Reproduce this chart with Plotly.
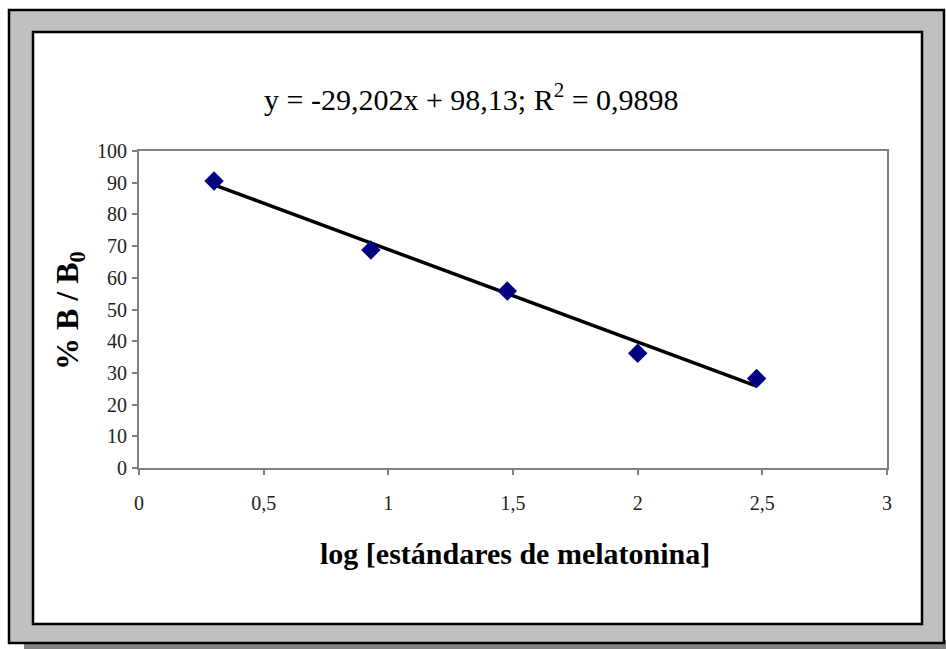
import plotly.graph_objects as go

# Data
log_conc = [0.301, 0.93, 1.477, 2.0, 2.477]
pct_b_b0 = [90.5, 68.8, 55.8, 36.2, 28.2]
slope = -29.202
intercept = 98.13
x_ticks = [0, 0.5, 1, 1.5, 2, 2.5, 3]
x_tick_labels = ["0", "0,5", "1", "1,5", "2", "2,5", "3"]
y_ticks = list(range(0, 101, 10))
equation = "y = -29,202x + 98,13; R<sup>2</sup> = 0,9898"
x_title = "log [estándares de melatonina]"
y_title = "% B / B<sub>0</sub>"

W, H = 946, 649
L, R, T, B = 139, 887, 151, 468

def px(x):
    return (x - L) / (R - L)

def py(y):
    return (B - y) / (B - T)

fit_x = [min(log_conc), max(log_conc)]
fit_y = [slope * v + intercept for v in fit_x]

fig = go.Figure()
fig.add_trace(go.Scatter(x=fit_x, y=fit_y, mode="lines",
                         line=dict(color="black", width=3.5), hoverinfo="skip"))
fig.add_trace(go.Scatter(x=log_conc, y=pct_b_b0, mode="markers",
                         marker=dict(symbol="diamond", size=15, color="#000080",
                                     line=dict(width=0))))

shapes = [
    # shadow
    dict(type="rect", xref="paper", yref="paper", x0=px(24), x1=px(960), y0=py(660), y1=py(640),
         fillcolor="#808080", line=dict(width=0), layer="below"),
    # outer gray frame
    dict(type="rect", xref="paper", yref="paper", x0=px(9), x1=px(944), y0=py(643), y1=py(10),
         fillcolor="#c0c0c0", line=dict(color="black", width=2.5), layer="below"),
    # inner white box
    dict(type="rect", xref="paper", yref="paper", x0=px(33), x1=px(922), y0=py(624), y1=py(32),
         fillcolor="white", line=dict(color="black", width=2.5), layer="below"),
]

serif = "Liberation Serif, Times New Roman, serif"
annotations = [
    dict(text=equation, xref="paper", yref="paper", x=px(471), y=py(97),
         showarrow=False, xanchor="center", yanchor="middle",
         font=dict(family=serif, size=30, color="black")),
    dict(text="<b>" + x_title + "</b>", xref="paper", yref="paper", x=px(515), y=py(553),
         showarrow=False, xanchor="center", yanchor="middle",
         font=dict(family=serif, size=30, color="black")),
    dict(text="<b>" + y_title + "</b>", xref="paper", yref="paper", x=px(69), y=py(311),
         showarrow=False, xanchor="center", yanchor="middle", textangle=-90,
         font=dict(family=serif, size=32, color="black")),
]

fig.update_layout(
    width=W, height=H,
    margin=dict(l=L, r=W - R, t=T, b=H - B, pad=0),
    paper_bgcolor="white", plot_bgcolor="white",
    showlegend=False,
    shapes=shapes,
    annotations=annotations,
)
fig.update_xaxes(range=[0, 3], tickvals=x_ticks, ticktext=x_tick_labels,
                 showgrid=False, zeroline=False,
                 showline=True, linecolor="#808080", linewidth=2, mirror=True,
                 ticks="outside", ticklen=5, tickcolor="#808080", tickwidth=1.5,
                 ticklabelstandoff=11,
                 tickfont=dict(family=serif, size=20, color="#222222"))
fig.update_yaxes(range=[0, 100], tickvals=y_ticks,
                 showgrid=False, zeroline=False,
                 showline=True, linecolor="#808080", linewidth=2, mirror=True,
                 ticks="outside", ticklen=5, tickcolor="#808080", tickwidth=1.5,
                 ticklabelstandoff=1,
                 tickfont=dict(family=serif, size=20, color="#222222"))

fig.write_html("out.html", config={"displayModeBar": False},
               post_script="document.body.style.margin='0';")
